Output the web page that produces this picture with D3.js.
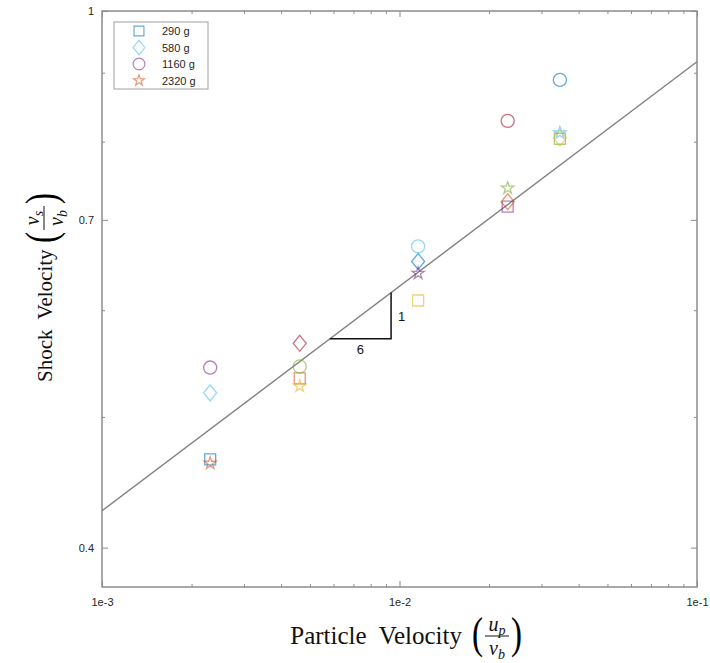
<!DOCTYPE html>
<html>
<head>
<meta charset="utf-8">
<script src="https://cdn.jsdelivr.net/npm/d3@7"></script>
<style>
  body { margin: 0; background: #fff; }
  text { font-family: "Liberation Sans", Arial, sans-serif; }
  .serif { font-family: "Liberation Serif", "Times New Roman", serif; }
</style>
</head>
<body>
<svg id="chart" width="710" height="663"></svg>
<script>
// Normalised particle velocity u_p / v_b for each test
const particleVelocity = [0.00231, 0.00462, 0.01155, 0.0231, 0.0346];

// Normalised shock velocity v_s / v_b per projectile mass
const seriesNames = ["290 g", "580 g", "1160 g", "2320 g"];
const seriesMarkers = ["square", "diamond", "circle", "star"];
const shock290 = [0.465, 0.534, 0.610, 0.716, 0.804];
const shock580 = [0.521, 0.567, 0.652, 0.722, 0.805];
const shock1160 = [0.544, 0.545, 0.669, 0.829, 0.889];
const shock2320 = [0.462, 0.527, 0.639, 0.739, 0.812];
const shockSeries = [shock290, shock580, shock1160, shock2320];

// Colour order, cycled point by point
const colorOrder = ["#0072BD", "#D95319", "#EDB120", "#7E2F8E", "#77AC30", "#4DBEEE", "#A2142F"];

// Power-law fit v_s ~ u_p^(1/6), given by its end points
const fitLine = [[1e-3, 0.426], [1e-1, 0.917]];
const slopeRun = [0.00583, 0.00937];
const slopeLabels = ["6", "1"];

// Axis ticks
const xMajor = [1e-3, 1e-2, 1e-1];
const xMajorLabels = ["1e-3", "1e-2", "1e-1"];
const yMajor = [0.4, 0.7, 1];
const yMajorLabels = ["0.4", "0.7", "1"];
const yMinor = [0.5, 0.6, 0.8, 0.9];

const svg = d3.select("#chart");
const box = { left: 102, right: 697, top: 11, bottom: 587 };

const x = d3.scaleLog().domain([1e-3, 1e-1]).range([box.left, box.right]);
const y = d3.scaleLog().domain([0.374, 1]).range([box.bottom, box.top]);

const xMinor = [];
[1e-3, 1e-2].forEach(d => { for (let k = 2; k <= 9; k++) xMinor.push(d * k); });

const axisColor = "#8c8c8c";
const g = svg.append("g");

function styleAxis(sel) {
  sel.select(".domain").remove();
  sel.selectAll("line").attr("stroke", axisColor).attr("stroke-width", 1);
  sel.selectAll("text").attr("fill", "#262626").attr("font-size", 11);
}

// Minor ticks on all sides (inward)
g.append("g").attr("transform", `translate(0,${box.bottom})`)
  .call(d3.axisBottom(x).tickValues(xMinor).tickSize(-3).tickFormat(""))
  .call(styleAxis);
g.append("g").attr("transform", `translate(0,${box.top})`)
  .call(d3.axisTop(x).tickValues(xMinor).tickSize(-3).tickFormat(""))
  .call(styleAxis);
g.append("g").attr("transform", `translate(${box.left},0)`)
  .call(d3.axisLeft(y).tickValues(yMinor).tickSize(-3).tickFormat(""))
  .call(styleAxis);
g.append("g").attr("transform", `translate(${box.right},0)`)
  .call(d3.axisRight(y).tickValues(yMinor).tickSize(-3).tickFormat(""))
  .call(styleAxis);

// Major ticks with labels
g.append("g").attr("transform", `translate(0,${box.bottom})`)
  .call(d3.axisBottom(x).tickValues(xMajor).tickSize(-6).tickPadding(11)
    .tickFormat((d, i) => xMajorLabels[i]))
  .call(styleAxis);
g.append("g").attr("transform", `translate(0,${box.top})`)
  .call(d3.axisTop(x).tickValues(xMajor).tickSize(-6).tickFormat(""))
  .call(styleAxis);
g.append("g").attr("transform", `translate(${box.left},0)`)
  .call(d3.axisLeft(y).tickValues(yMajor).tickSize(-6).tickPadding(8)
    .tickFormat((d, i) => yMajorLabels[i]))
  .call(styleAxis);
g.append("g").attr("transform", `translate(${box.right},0)`)
  .call(d3.axisRight(y).tickValues(yMajor).tickSize(-6).tickFormat(""))
  .call(styleAxis);

// Plot box
svg.append("rect")
  .attr("x", box.left).attr("y", box.top)
  .attr("width", box.right - box.left).attr("height", box.bottom - box.top)
  .attr("fill", "none").attr("stroke", axisColor).attr("stroke-width", 1.5);

// Fit line
const line = d3.line().x(d => x(d[0])).y(d => y(d[1]));
svg.append("path").datum(fitLine)
  .attr("d", line)
  .attr("fill", "none").attr("stroke", "#808080").attr("stroke-width", 1.4);

// Slope triangle sitting on the fit line
const fitExp = Math.log(fitLine[1][1] / fitLine[0][1]) / Math.log(fitLine[1][0] / fitLine[0][0]);
const fitAt = u => fitLine[0][1] * Math.pow(u / fitLine[0][0], fitExp);
const tri = [[slopeRun[0], fitAt(slopeRun[0])], [slopeRun[1], fitAt(slopeRun[0])], [slopeRun[1], fitAt(slopeRun[1])]];
svg.append("path").datum(tri)
  .attr("d", line)
  .attr("fill", "none").attr("stroke", "#111").attr("stroke-width", 1.5);
svg.append("text")
  .attr("x", (x(tri[0][0]) + x(tri[1][0])) / 2).attr("y", y(tri[0][1]) + 15)
  .attr("text-anchor", "middle").attr("font-size", 13).attr("fill", "#111")
  .text(slopeLabels[0]);
svg.append("text")
  .attr("x", x(tri[1][0]) + 7).attr("y", (y(tri[1][1]) + y(tri[2][1])) / 2 + 5)
  .attr("font-size", 13).attr("fill", "#111")
  .text(slopeLabels[1]);

// Marker shapes
function markerPath(type) {
  switch (type) {
    case "square": return "M-5.5,-5.5H5.5V5.5H-5.5Z";
    case "diamond": return "M0,-8L6.5,0L0,8L-6.5,0Z";
    case "circle": return d3.symbol(d3.symbolCircle, 135)();
    case "star": return d3.symbol(d3.symbolStar, 46)();
  }
}

const points = [];
shockSeries.forEach((vals, s) => {
  vals.forEach((v, i) => {
    points.push({ u: particleVelocity[i], v: v, marker: seriesMarkers[s],
      color: colorOrder[(s * particleVelocity.length + i) % colorOrder.length] });
  });
});

svg.append("g").selectAll("path")
  .data(points).join("path")
  .attr("transform", d => `translate(${x(d.u)},${y(d.v)})`)
  .attr("d", d => markerPath(d.marker))
  .attr("fill", "none")
  .attr("stroke", d => d.color)
  .attr("stroke-opacity", 0.6)
  .attr("stroke-width", 1.3);

// Legend
const legend = svg.append("g");
legend.append("rect")
  .attr("x", 114).attr("y", 22).attr("width", 94).attr("height", 67)
  .attr("fill", "#fff").attr("stroke", "#a0a0a0").attr("stroke-width", 1);
seriesNames.forEach((name, s) => {
  const ly = 31 + s * 16.5;
  legend.append("path")
    .attr("transform", `translate(139,${ly}) scale(0.9)`)
    .attr("d", markerPath(seriesMarkers[s]))
    .attr("fill", "none")
    .attr("stroke", colorOrder[(s * particleVelocity.length) % colorOrder.length])
    .attr("stroke-opacity", 0.6).attr("stroke-width", 1.3);
  legend.append("text")
    .attr("x", 162).attr("y", ly + 4)
    .attr("font-size", 11).attr("fill", "#262626")
    .text(name);
});

// Axis titles with fractional units
function fraction(parent, num, numSub, den, denSub, cx, cy) {
  const f = parent.append("g").attr("class", "serif").attr("transform", `translate(${cx},${cy})`);
  f.append("text").attr("x", -26).attr("y", 12).attr("font-size", 44)
    .attr("class", "serif").attr("transform", "scale(0.75,1)").attr("text-anchor", "middle").text("(");
  f.append("text").attr("x", 26).attr("y", 12).attr("font-size", 44)
    .attr("class", "serif").attr("transform", "scale(0.75,1)").attr("text-anchor", "middle").text(")");
  f.append("line").attr("x1", -12).attr("x2", 12).attr("y1", 0).attr("y2", 0)
    .attr("stroke", "#111").attr("stroke-width", 1);
  const n = f.append("text").attr("class", "serif").attr("y", -5).attr("text-anchor", "middle")
    .attr("font-size", 20).attr("font-style", "italic").attr("fill", "#111");
  n.append("tspan").text(num);
  n.append("tspan").attr("font-size", 14).attr("dy", 4).text(numSub);
  const dd = f.append("text").attr("class", "serif").attr("y", 19).attr("text-anchor", "middle")
    .attr("font-size", 20).attr("font-style", "italic").attr("fill", "#111");
  dd.append("tspan").text(den);
  dd.append("tspan").attr("font-size", 14).attr("dy", 4).text(denSub);
}

const xTitle = svg.append("g");
xTitle.append("text").attr("class", "serif")
  .attr("x", 462).attr("y", 644).attr("text-anchor", "end")
  .attr("font-size", 25).attr("fill", "#111")
  .attr("xml:space", "preserve")
  .text("Particle  Velocity");
fraction(xTitle, "u", "p", "v", "b", 497, 636);

const yTitle = svg.append("g").attr("transform", "translate(52,312) rotate(-90)");
yTitle.append("text").attr("class", "serif")
  .attr("x", -70).attr("y", 0)
  .attr("font-size", 21).attr("fill", "#111")
  .attr("xml:space", "preserve")
  .text("Shock  Velocity");
fraction(yTitle, "v", "s", "v", "b", 94, -8);
</script>
</body>
</html>
